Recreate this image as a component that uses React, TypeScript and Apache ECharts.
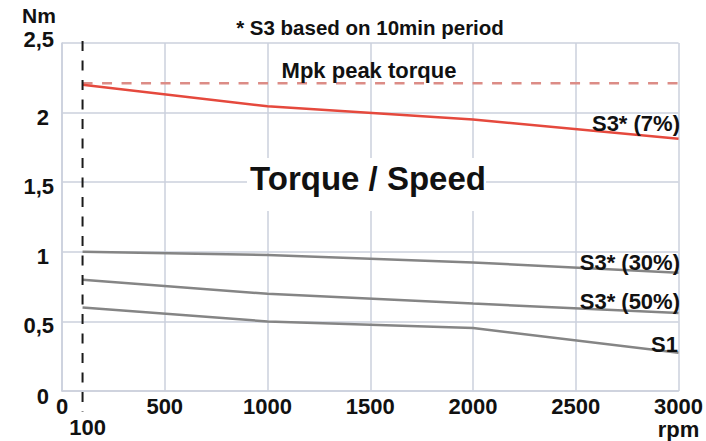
import React, { useEffect, useRef } from 'react';
import * as echarts from 'echarts';

const rpmPoints = [100, 1000, 2000, 3000];
const s3Pct7 = [2.2, 2.045, 1.95, 1.813];
const s3Pct30 = [1.0, 0.977, 0.923, 0.85];
const s3Pct50 = [0.8, 0.698, 0.628, 0.56];
const s1Values = [0.6, 0.5, 0.453, 0.274];
const mpkRpm = [100, 3000];
const mpkValues = [2.21, 2.21];
const markerRpm = 100;

const xMin = 0;
const xMax = 3000;
const xStep = 500;
const yMin = 0;
const yMax = 2.5;
const yStep = 0.5;

const FONT = "'Liberation Sans', Arial, Helvetica, sans-serif";
const GRID_COLOR = '#cbd0dc';
const GRAY = '#858585';
const RED = '#e5493d';

const zip = (xs: number[], ys: number[]) => xs.map((x, i) => [x, ys[i]]);

export default function App() {
  const ref = useRef<HTMLDivElement>(null);

  useEffect(() => {
    if (!ref.current) return;
    const chart = echarts.init(ref.current, undefined, { renderer: 'svg' });

    const labelBase = { fontFamily: FONT, fontWeight: 'bold' as const, fontSize: 22, color: '#111' };

    chart.setOption({
      animation: false,
      backgroundColor: '#fff',
      grid: { left: 62, right: 24, top: 43, bottom: 45, containLabel: false },
      xAxis: {
        type: 'value',
        min: xMin,
        max: xMax,
        interval: xStep,
        axisLine: { show: true, lineStyle: { color: GRID_COLOR, width: 1.5 } },
        axisTick: { show: false },
        splitLine: { show: true, lineStyle: { color: GRID_COLOR, width: 1.5 } },
        axisLabel: {
          ...labelBase,
          margin: 4,
          lineHeight: 23,
          formatter: (v: number) => (v === xMax ? `${v}\nrpm` : `${v}`),
        },
      },
      yAxis: {
        type: 'value',
        min: yMin,
        max: yMax,
        interval: yStep,
        axisLine: { show: true, lineStyle: { color: GRID_COLOR, width: 1.5 } },
        axisTick: { show: false },
        splitLine: { show: true, lineStyle: { color: GRID_COLOR, width: 1.5 } },
        axisLabel: {
          ...labelBase,
          margin: 8,
          formatter: (v: number) => {
            const s = String(v).replace('.', ',');
            if (v === yMax) return `{t|${s}}`;
            if (Number.isInteger(v)) return `{i|${s}}`;
            return `{d|${s}}`;
          },
          rich: {
            t: { ...labelBase, lineHeight: 17, padding: [0, 0, 8, 0] },
            i: { ...labelBase, lineHeight: 17, padding: [10, 5, 0, 0] },
            d: { ...labelBase, lineHeight: 17, padding: [8, 0, 0, 0] },
          },
        },
      },
      series: [
        {
          name: 'Mpk peak torque',
          type: 'line',
          data: zip(mpkRpm, mpkValues),
          symbol: 'none',
          lineStyle: { color: '#dc8c86', width: 2.5, type: [10, 9.5] },
          z: 3,
        },
        {
          name: 'S3* (7%)',
          type: 'line',
          data: zip(rpmPoints, s3Pct7),
          symbol: 'none',
          lineStyle: { color: RED, width: 2.5 },
          z: 4,
        },
        {
          name: 'S3* (30%)',
          type: 'line',
          data: zip(rpmPoints, s3Pct30),
          symbol: 'none',
          lineStyle: { color: GRAY, width: 2.5 },
        },
        {
          name: 'S3* (50%)',
          type: 'line',
          data: zip(rpmPoints, s3Pct50),
          symbol: 'none',
          lineStyle: { color: GRAY, width: 2.5 },
        },
        {
          name: 'S1',
          type: 'line',
          data: zip(rpmPoints, s1Values),
          symbol: 'none',
          lineStyle: { color: GRAY, width: 2.5 },
        },
      ],
    });

    const [px, pyTop] = chart.convertToPixel({ xAxisIndex: 0, yAxisIndex: 0 }, [markerRpm, yMax]) as number[];
    const [, pyBottom] = chart.convertToPixel({ xAxisIndex: 0, yAxisIndex: 0 }, [markerRpm, yMin]) as number[];

    const txt = (text: string, x: number, y: number, align: string, size = 22) => ({
      type: 'text',
      x,
      y,
      z: 20,
      style: {
        text,
        fill: '#111',
        font: `bold ${size}px ${FONT}`,
        textAlign: align,
        textVerticalAlign: 'middle',
      },
    });

    chart.setOption({
      graphic: [
        {
          type: 'line',
          z: 15,
          shape: { x1: px, y1: pyTop - 2, x2: px, y2: pyBottom + 21 },
          style: { stroke: '#1a1a1a', lineWidth: 2, lineDash: [10, 9.5] },
        },
        txt('100', px + 5, pyBottom + 36, 'center'),
        txt('Nm', 22, 15, 'left', 21),
        txt('* S3 based on 10min period', 370, 27, 'center', 20.5),
        txt('Mpk peak torque', 369, 70, 'center'),
        txt('S3* (7%)', 680, 123, 'right'),
        txt('S3* (30%)', 680, 262, 'right'),
        txt('S3* (50%)', 680, 301, 'right'),
        txt('S1', 678, 344, 'right'),
        {
          type: 'rect',
          z: 18,
          shape: { x: 247, y: 158, width: 239, height: 53 },
          style: { fill: '#fff' },
        },
        txt('Torque / Speed', 368, 178, 'center', 33),
      ],
    });

    return () => chart.dispose();
  }, []);

  return (
    <div
      ref={ref}
      style={{ position: 'absolute', left: 0, top: 0, width: 706, height: 441 }}
    />
  );
}
